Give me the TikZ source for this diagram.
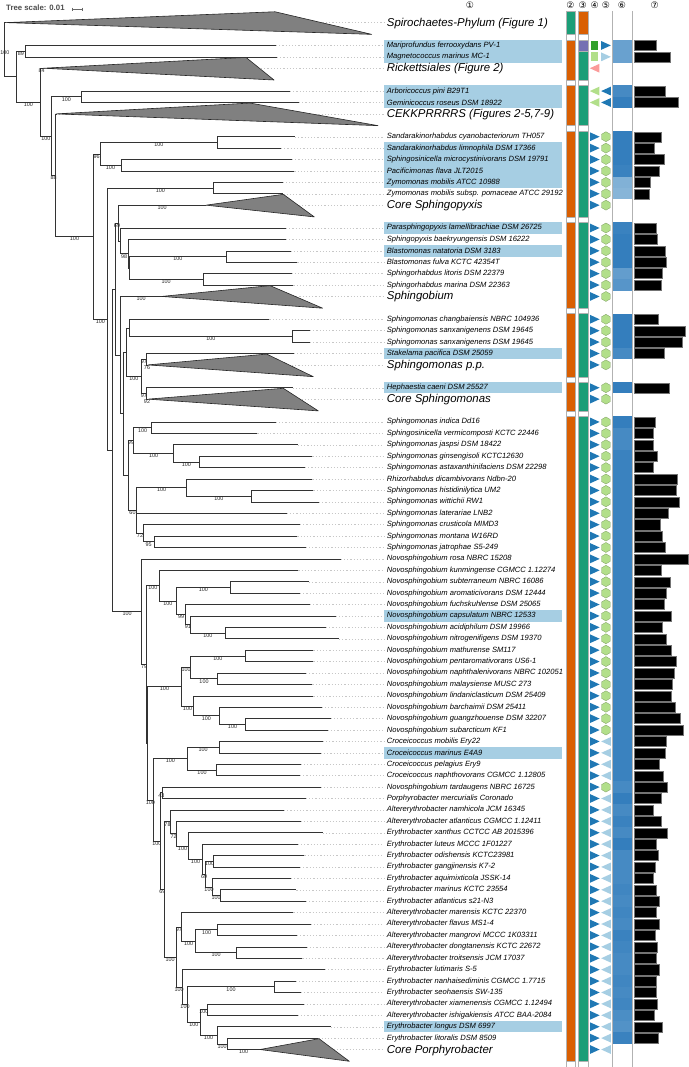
\documentclass[tikz,border=0pt]{standalone}
\usepackage{fontspec}
\setmainfont{Liberation Sans}
\newfontfamily\circfont{DejaVu Sans}
\usetikzlibrary{shapes.geometric}
\definecolor{stripgreen}{RGB}{27,158,119}
\definecolor{striporange}{RGB}{217,95,2}
\definecolor{strippurple}{RGB}{117,112,179}
\definecolor{hlblue}{RGB}{166,206,227}
\definecolor{symblue}{RGB}{31,120,180}
\definecolor{symlightblue}{RGB}{166,206,227}
\definecolor{symgreen}{RGB}{51,160,44}
\definecolor{symlightgreen}{RGB}{178,223,138}
\definecolor{sympink}{RGB}{251,154,153}
\definecolor{heatdark}{RGB}{52,126,189}
\definecolor{heatlight}{RGB}{170,204,228}
\tikzstyle{branch}=[draw=black!80,line width=0.6pt]
\tikzstyle{clade}=[fill=black!50,draw=black!85,line width=0.6pt,line join=round]
\tikzstyle{guide}=[draw=black!22,line width=0.4pt,dash pattern=on 1.2pt off 2pt]
\tikzstyle{taxon}=[anchor=west,inner sep=0pt,font=\fontsize{7.6}{8}\selectfont\itshape]
\tikzstyle{cladename}=[anchor=west,inner sep=0pt,font=\fontsize{11.4}{12}\selectfont\itshape]
\tikzstyle{boot}=[anchor=north,inner sep=0.3pt,font=\fontsize{5.4}{6}\selectfont,text=black!85]
\tikzstyle{circnum}=[inner sep=0pt,font=\circfont\fontsize{9}{9}\selectfont]
\tikzstyle{colline}=[draw=black!30,line width=0.4pt]
\tikzstyle{stripbox}=[draw=black!30,line width=0.3pt]
\tikzstyle{bar}=[fill=black,draw=black!55,line width=0.3pt]
\tikzstyle{hexa}=[regular polygon,regular polygon sides=6,rotate=90,minimum size=10pt,inner sep=0pt,fill=symlightgreen,draw=symlightgreen!70!black,line width=0.3pt]
\newcommand{\tright}[3]{\fill[#3] (#1,#2) ++(0pt,4.4pt) -- ++(9.6pt,-4.4pt) -- ++(-9.6pt,-4.4pt) -- cycle;}
\newcommand{\tleft}[3]{\fill[#3] (#1,#2) ++(9.6pt,4.4pt) -- ++(-9.6pt,-4.4pt) -- ++(9.6pt,-4.4pt) -- cycle;}

\begin{document}
\begin{tikzpicture}[x=1pt,y=-11.41pt]
    \useasboundingbox (0,-1.981) rectangle (688,91.533);

    % scale and column heads
    \node[anchor=west,inner sep=0pt,font=\fontsize{7.8}{8}\selectfont\bfseries,text=black!70] (scale) at (6,-1.31) {Tree scale: 0.01};
    \draw[black!60,line width=0.4pt] (71.7,-1.19) -- (81.7,-1.19);
    \draw[black!60,line width=0.4pt] (71.7,-1.19) ++(0pt,1.5pt) -- ++(0pt,-3pt);
    \draw[black!60,line width=0.4pt] (81.7,-1.19) ++(0pt,1.5pt) -- ++(0pt,-3pt);
    \foreach \x/\n [count=\i] in {470/①,570.5/②,582.7/③,594.7/④,606/⑤,622/⑥,654.7/⑦}
        \node[circnum] (hd\i) at (\x,-1.5) {\n};

    % highlighted taxa
    \foreach \r in {2,3,6,7,11,12,13,14,18,20,29,32,52,64,88}
        \fill[hlblue] (384.3,\r-0.5) rectangle (562,\r+0.5);

    % guides behind collapsed clades
    \foreach \r/\x in {0/6,4/43.4,8/56,16/206,24/161.7,30/148,33/148,90/260}
        \draw[guide] (\x,\r) -- (384,\r);

    % leaves: tip, guide and name
    \foreach \r/\x/\txt in {
        2/276/{Mariprofundus ferrooxydans PV-1},
        3/277/{Magnetococcus marinus MC-1},
        6/290/{Arboricoccus pini B29T1},
        7/299/{Geminicoccus roseus DSM 18922},
        10/295/{Sandarakinorhabdus cyanobacteriorum TH057},
        11/281/{Sandarakinorhabdus limnophila DSM 17366},
        12/292/{Sphingosinicella microcystinivorans DSM 19791},
        13/294.3/{Pacificimonas flava JLT2015},
        14/282.7/{Zymomonas mobilis ATCC 10988},
        15/283.3/{Zymomonas mobilis subsp. pomaceae ATCC 29192},
        18/286/{Parasphingopyxis lamellibrachiae DSM 26725},
        19/286/{Sphingopyxis baekryungensis DSM 16222},
        20/290.7/{Blastomonas natatoria DSM 3183},
        21/297.3/{Blastomonas fulva KCTC 42354T},
        22/291.7/{Sphingorhabdus litoris DSM 22379},
        23/293.3/{Sphingorhabdus marina DSM 22363},
        26/269.3/{Sphingomonas changbaiensis NBRC 104936},
        27/310/{Sphingomonas sanxanigenens DSM 19645},
        28/310/{Sphingomonas sanxanigenens DSM 19645},
        29/294/{Stakelama pacifica DSM 25059},
        32/292.7/{Hephaestia caeni DSM 25527},
        35/275.7/{Sphingomonas indica Dd16},
        36/257.3/{Sphingosinicella vermicomposti KCTC 22446},
        37/297.7/{Sphingomonas jaspsi DSM 18422},
        38/312.3/{Sphingomonas ginsengisoli KCTC12630},
        39/305/{Sphingomonas astaxanthinifaciens DSM 22298},
        40/312.3/{Rhizorhabdus dicambivorans Ndbn-20},
        41/313.3/{Sphingomonas histidinilytica UM2},
        42/319/{Sphingomonas wittichii RW1},
        43/286.7/{Sphingomonas laterariae LNB2},
        44/300/{Sphingomonas crusticola MIMD3},
        45/297.3/{Sphingomonas montana W16RD},
        46/305.7/{Sphingomonas jatrophae S5-249},
        47/340.7/{Novosphingobium rosa NBRC 15208},
        48/298.3/{Novosphingobium kunmingense CGMCC 1.12274},
        49/309/{Novosphingobium subterraneum NBRC 16086},
        50/300/{Novosphingobium aromaticivorans DSM 12444},
        51/310/{Novosphingobium fuchskuhlense DSM 25065},
        52/335.7/{Novosphingobium capsulatum NBRC 12533},
        53/326/{Novosphingobium acidiphilum DSM 19966},
        54/339/{Novosphingobium nitrogenifigens DSM 19370},
        55/313.3/{Novosphingobium mathurense SM117},
        56/313.3/{Novosphingobium pentaromativorans US6-1},
        57/306/{Novosphingobium naphthalenivorans NBRC 102051},
        58/312.3/{Novosphingobium malaysiense MUSC 273},
        59/313.3/{Novosphingobium lindaniclasticum DSM 25409},
        60/321.7/{Novosphingobium barchaimii DSM 25411},
        61/330.7/{Novosphingobium guangzhouense DSM 32207},
        62/327.7/{Novosphingobium subarcticum KF1},
        63/322.7/{Croceicoccus mobilis Ery22},
        64/320.7/{Croceicoccus marinus E4A9},
        65/300.7/{Croceicoccus pelagius Ery9},
        66/300/{Croceicoccus naphthovorans CGMCC 1.12805},
        67/320.7/{Novosphingobium tardaugens NBRC 16725},
        68/305.7/{Porphyrobacter mercurialis Coronado},
        69/284/{Altererythrobacter namhicola JCM 16345},
        70/300.7/{Altererythrobacter atlanticus CGMCC 1.12411},
        71/322.7/{Erythrobacter xanthus CCTCC AB 2015396},
        72/297.7/{Erythrobacter luteus MCCC 1F01227},
        73/304.3/{Erythrobacter odishensis KCTC23981},
        74/300/{Erythrobacter gangjinensis K7-2},
        75/291/{Erythrobacter aquimixticola JSSK-14},
        76/296.3/{Erythrobacter marinus KCTC 23554},
        77/306/{Erythrobacter atlanticus s21-N3},
        78/293.3/{Altererythrobacter marensis KCTC 22370},
        79/310.7/{Altererythrobacter flavus MS1-4},
        80/297/{Altererythrobacter mangrovi MCCC 1K03311},
        81/306.7/{Altererythrobacter dongtanensis KCTC 22672},
        82/302.3/{Altererythrobacter troitsensis JCM 17037},
        83/325/{Erythrobacter lutimaris S-5},
        84/296/{Erythrobacter nanhaisediminis CGMCC 1.7715},
        85/301/{Erythrobacter seohaensis SW-135},
        86/303.7/{Altererythrobacter xiamenensis CGMCC 1.12494},
        87/297.7/{Altererythrobacter ishigakiensis ATCC BAA-2084},
        88/330.7/{Erythrobacter longus DSM 6997},
        89/318.3/{Erythrobacter litoralis DSM 8509}}
    {
        \coordinate (t\r) at (\x,\r);
        \draw[guide] (t\r) -- (384,\r);
        \node[taxon] (lab\r) at (386.7,\r) {\txt};
    }

    % collapsed clades
    \foreach \r/\txt in {0/{Spirochaetes-Phylum (Figure 1)},4/{Rickettsiales (Figure 2)},
        8/{CEKKPRRRRS (Figures 2-5,7-9)},16/{Core Sphingopyxis},24/{Sphingobium},
        30/{Sphingomonas p.p.},33/{Core Sphingomonas},90/{Core Porphyrobacter}}
        \node[cladename] (grp\r) at (386.7,\r+0.05) {\txt};
    \coordinate (spiroA) at (6,0);
    \coordinate (rickA) at (43.4,4);
    \coordinate (cekkA) at (56,8);
    \coordinate (cspxA) at (206,16);
    \coordinate (sbiA) at (161.7,24);
    \coordinate (sppA) at (148,30);
    \coordinate (csmA) at (148,33);
    \coordinate (cpoA) at (260,90);
    \draw[clade] (spiroA) -- (275,-0.95) -- (371.7,1.03) -- cycle;
    \draw[clade] (rickA) -- (246,3.05) -- (274,5.03) -- cycle;
    \draw[clade] (cekkA) -- (250,7.05) -- (378,9.03) -- cycle;
    \draw[clade] (cspxA) -- (283.3,15.05) -- (314.3,17.03) -- cycle;
    \draw[clade] (sbiA) -- (270,23.05) -- (322.7,25.03) -- cycle;
    \draw[clade] (sppA) -- (266.7,29.05) -- (313.3,31.03) -- cycle;
    \draw[clade] (csmA) -- (283.3,32.05) -- (318.3,34.03) -- cycle;
    \draw[clade] (cpoA) -- (319,89.05) -- (349.3,91.03) -- cycle;

    % inner nodes
    \coordinate (root) at (4.3,2.37);
    \coordinate (nA) at (16.7,4.73);
    \coordinate (nB) at (25,2.5);
    \coordinate (nC) at (40,6.97);
    \coordinate (nD) at (51.7,9.94);
    \coordinate (nArb) at (81,6.5);
    \coordinate (nE) at (55.7,13.37);
    \coordinate (nF) at (93.3,18.75);
    \coordinate (nG) at (100,11.5);
    \coordinate (nH) at (217.7,10.5);
    \coordinate (nI) at (121,12.5);
    \coordinate (nJ) at (107.3,25.99);
    \coordinate (nK) at (213.3,14.5);
    \coordinate (nS) at (112.7,37.49);
    \coordinate (nP) at (115.7,23.35);
    \coordinate (nL) at (118.3,17.56);
    \coordinate (nO) at (120,19.13);
    \coordinate (nM) at (128.3,20.25);
    \coordinate (nN) at (129,21.5);
    \coordinate (nBl) at (226.7,20.5);
    \coordinate (nSr) at (203.3,22.5);
    \coordinate (nQ) at (120.7,29.14);
    \coordinate (nU) at (123.3,34.28);
    \coordinate (nW) at (126,28.88);
    \coordinate (nV) at (129,26.75);
    \coordinate (nSx) at (292.7,27.5);
    \coordinate (nZ) at (141.7,31);
    \coordinate (nY1) at (146,29.5);
    \coordinate (nY2) at (146,32.5);
    \coordinate (nAA) at (128.3,39.69);
    \coordinate (nAB) at (133.7,36.63);
    \coordinate (nAC) at (151.7,35.5);
    \coordinate (nAD) at (173.7,37.75);
    \coordinate (nAE) at (199,38.5);
    \coordinate (nAF) at (136.7,42.75);
    \coordinate (nAG) at (186.7,40.75);
    \coordinate (nAI) at (251,41.5);
    \coordinate (nAK) at (143.3,44.75);
    \coordinate (nAJ) at (154,45.5);
    \coordinate (nT) at (141.7,51.62);
    \coordinate (nBA) at (146.7,56.25);
    \coordinate (nBB) at (159,49.34);
    \coordinate (nBF) at (176.7,50.69);
    \coordinate (nBG) at (230,49.5);
    \coordinate (nBH) at (185.7,51.88);
    \coordinate (nBI) at (190,52.75);
    \coordinate (nBJ) at (225.7,53.5);
    \coordinate (nBE) at (147.3,63.15);
    \coordinate (nBK) at (181.7,58.19);
    \coordinate (nBL) at (190.7,56.5);
    \coordinate (nBN) at (245,55.5);
    \coordinate (nBO) at (217.3,57.5);
    \coordinate (nBM) at (193.3,59.88);
    \coordinate (nBP) at (219.3,60.75);
    \coordinate (nBQ) at (245.7,61.5);
    \coordinate (nBR) at (153.3,68.12);
    \coordinate (nBS) at (187.3,64.5);
    \coordinate (nBU) at (219,63.5);
    \coordinate (nBV) at (216.7,65.5);
    \coordinate (nBT) at (160.3,71.73);
    \coordinate (nBW) at (162.3,67.5);
    \coordinate (nBX) at (164.3,75.97);
    \coordinate (nBY) at (170.7,70.04);
    \coordinate (nCA) at (176.7,71.08);
    \coordinate (nCB) at (188.3,72.16);
    \coordinate (nCC) at (202.7,73.31);
    \coordinate (nCD) at (205.7,74.63);
    \coordinate (nCE) at (213.3,73.5);
    \coordinate (nCF) at (212.3,75.75);
    \coordinate (nCG) at (220,76.5);
    \coordinate (nBZ) at (176,81.89);
    \coordinate (nCK) at (181.7,79.25);
    \coordinate (nCH) at (195.7,80.5);
    \coordinate (nCI) at (217.7,79.5);
    \coordinate (nCJ) at (236.7,81.5);
    \coordinate (nCL) at (182.3,84.53);
    \coordinate (nCM) at (187.7,86.06);
    \coordinate (nCN) at (274.3,84.5);
    \coordinate (nCO) at (200,87.63);
    \coordinate (nCP) at (207.7,86.5);
    \coordinate (nCQ) at (217,88.75);
    \coordinate (nCR) at (227.3,89.5);

    % branches to leaves
    \foreach \p/\r in {nB/2,nB/3,nArb/6,nArb/7,nH/10,nH/11,nI/12,nI/13,nK/14,nK/15,
        nO/18,nM/19,nBl/20,nBl/21,nSr/22,nSr/23,nV/26,nSx/27,nSx/28,nY1/29,nY2/32,
        nAC/35,nAC/36,nAD/37,nAE/38,nAE/39,nAG/40,nAI/41,nAI/42,nAF/43,nAK/44,nAJ/45,nAJ/46,
        nT/47,nBB/48,nBG/49,nBG/50,nBH/51,nBI/52,nBJ/53,nBJ/54,nBN/55,nBN/56,nBO/57,nBO/58,
        nBM/59,nBP/60,nBQ/61,nBQ/62,nBU/63,nBU/64,nBV/65,nBV/66,nBW/67,nBW/68,nBY/69,
        nCA/70,nCB/71,nCC/72,nCE/73,nCE/74,nCF/75,nCG/76,nCG/77,nCK/78,nCI/79,nCI/80,
        nCJ/81,nCJ/82,nCL/83,nCN/84,nCN/85,nCP/86,nCP/87,nCQ/88,nCR/89}
        \draw[branch] (\p) |- (t\r);

    % inner branches without support value
    \foreach \p/\c in {root/spiroA,root/nA,nE/cekkA,nJ/nS,nS/nP,nP/nQ,nL/nO,nM/nN,
        nQ/nU,nU/nW,nU/nAA,nW/nV,nBA/nBE}
        \draw[branch] (\p) |- (\c);

    % inner branches with support value
    \foreach \p/\c/\b in {nA/nB/89,nA/nC/100,nC/rickA/84,nC/nD/100,nD/nArb/100,nD/nE/88,
        nE/nF/100,nF/nG/96,nF/nJ/100,nG/nH/100,nG/nI/100,nJ/nK/100,nS/nT/100,nP/nL/69,
        nL/cspxA/100,nO/nM/98,nN/nBl/100,nN/nSr/100,nQ/sbiA/100,nW/nZ/100,nV/nSx/100,
        nZ/nY1/97,nZ/nY2/97,nY1/sppA/76,nY2/csmA/92,nAA/nAB/99,nAA/nAF/60,nAB/nAC/100,
        nAB/nAD/100,nAD/nAE/100,nAF/nAG/100,nAF/nAK/72,nAG/nAI/100,nAK/nAJ/95,nT/nBA/79,
        nBA/nBB/100,nBB/nBF/100,nBF/nBG/100,nBF/nBH/99,nBH/nBI/91,nBI/nBJ/100,
        nBE/nBK/100,nBE/nBR/100,nBK/nBL/100,nBK/nBM/100,nBL/nBN/100,nBL/nBO/100,
        nBM/nBP/100,nBP/nBQ/100,nBR/nBS/100,nBR/nBT/100,nBS/nBU/100,nBS/nBV/100,
        nBT/nBW/43,nBT/nBX/69,nBX/nBY/78,nBX/nBZ/100,nBY/nCA/72,nCA/nCB/100,
        nCB/nCC/100,nCC/nCD/69,nCD/nCE/100,nCD/nCF/100,nCF/nCG/100,nBZ/nCK/97,
        nBZ/nCL/100,nCK/nCH/100,nCH/nCI/100,nCH/nCJ/100,nCL/nCM/100,nCM/nCN/100,
        nCM/nCO/100,nCO/nCP/100,nCO/nCQ/100,nCQ/nCR/100,nCR/cpoA/100}
        \draw[branch] (\p) |- (\c) node[boot,pos=0.75] {\b};
    \node[boot] (rootval) at (5,2.4) {100};

    % strips 2 and 3
    \foreach \a/\b/\c in {-1.02/1.03/stripgreen,1.5/5.03/striporange,5.5/9.03/striporange,
        9.5/17.03/striporange,17.5/25.03/striporange,25.5/31.03/striporange,
        31.5/34.03/striporange,34.5/91.03/striporange}
        \filldraw[stripbox,fill=\c] (565.7,\a) rectangle (575.3,\b);
    \foreach \a/\b/\c in {-1.02/1.03/striporange,1.5/2.5/strippurple,2.5/5.03/stripgreen,
        5.5/9.03/stripgreen,9.5/17.03/stripgreen,17.5/25.03/stripgreen,25.5/31.03/stripgreen,
        31.5/34.03/stripgreen,34.5/91.03/stripgreen}
        \filldraw[stripbox,fill=\c] (577.7,\a) rectangle (587.7,\b);

    % symbols 4 and 5
    \fill[symgreen] (590.5,1.62) rectangle (597.8,2.38);
    \fill[symlightgreen] (590.5,2.62) rectangle (597.8,3.38);
    \tright{601.2}{2}{symblue}
    \tright{601.2}{3}{symlightblue}
    \tleft{589.8}{4}{sympink}
    \tleft{589.8}{6}{symlightgreen}
    \tleft{589.8}{7}{symlightgreen}
    \tleft{601.2}{6}{symblue}
    \tleft{601.2}{7}{symblue}
    \foreach \r in {10,...,16} {\tright{590}{\r}{symblue} \node[hexa] (hx\r) at (605.9,\r) {};}
    \foreach \r in {18,...,24} {\tright{590}{\r}{symblue} \node[hexa] (hx\r) at (605.9,\r) {};}
    \foreach \r in {26,...,30} {\tright{590}{\r}{symblue} \node[hexa] (hx\r) at (605.9,\r) {};}
    \foreach \r in {32,33} {\tright{590}{\r}{symblue} \node[hexa] (hx\r) at (605.9,\r) {};}
    \foreach \r in {35,...,62} {\tright{590}{\r}{symblue} \node[hexa] (hx\r) at (605.9,\r) {};}
    \foreach \r in {63,...,90} {\tright{590}{\r}{symblue}}
    \foreach \r in {63,64,65,66,68,69,...,90} {\tleft{601.2}{\r}{symlightblue}}
    \node[hexa] (hx67) at (605.9,67) {};

    % heat map 6 and bars 7
    \foreach \r/\s/\e in {2/55/656,3/55/670,6/85/665,7/100/678.3,10/100/661,11/100/654,
        12/100/664,13/95/659,14/35/650,15/30/649.3,18/95/656,19/100/657.3,20/100/665,
        21/100/665.7,22/60/661.7,23/70/661,26/100/658.3,27/100/685,28/100/681.7,
        29/85/664.3,32/100/669,35/100/655,36/85/653.3,37/85/653.3,38/95/657,39/95/653.3,
        40/95/676.7,41/95/676,42/95/679.3,43/95/668.3,44/95/660,45/95/662.3,46/95/665,
        47/95/687.7,48/95/660.7,49/95/670,50/95/666,51/95/664.3,52/95/671,53/95/662.3,
        54/95/665.7,55/95/671,56/95/676,57/95/674,58/95/672.3,59/95/671,60/95/675,
        61/95/680,62/95/682.7,63/95/666,64/95/665,65/95/659,66/95/663.3,67/85/666.7,
        68/100/660.7,69/85/653.3,70/95/660.7,71/85/667.3,72/100/656,73/85/658.3,
        74/85/654.7,75/85/653.3,76/90/655.7,77/85/658.7,78/90/656,79/85/659,80/95/654.7,
        81/90/657,82/85/656,83/85/659,84/90/656,85/85/656.3,86/90/657.3,87/80/654.3,
        88/75/661.7,89/95/658.3}
    {
        \fill[heatdark!\s!heatlight] (612.3,\r-0.5) rectangle (631.7,\r+0.5);
        \filldraw[bar] (634,\r-0.44) rectangle (\e,\r+0.44);
    }
    \foreach \x in {565.7,575.3,577.7,587.7,612.3,631.7}
        \draw[colline] (\x,-1.02) -- (\x,91.6);
\end{tikzpicture}
\end{document}
